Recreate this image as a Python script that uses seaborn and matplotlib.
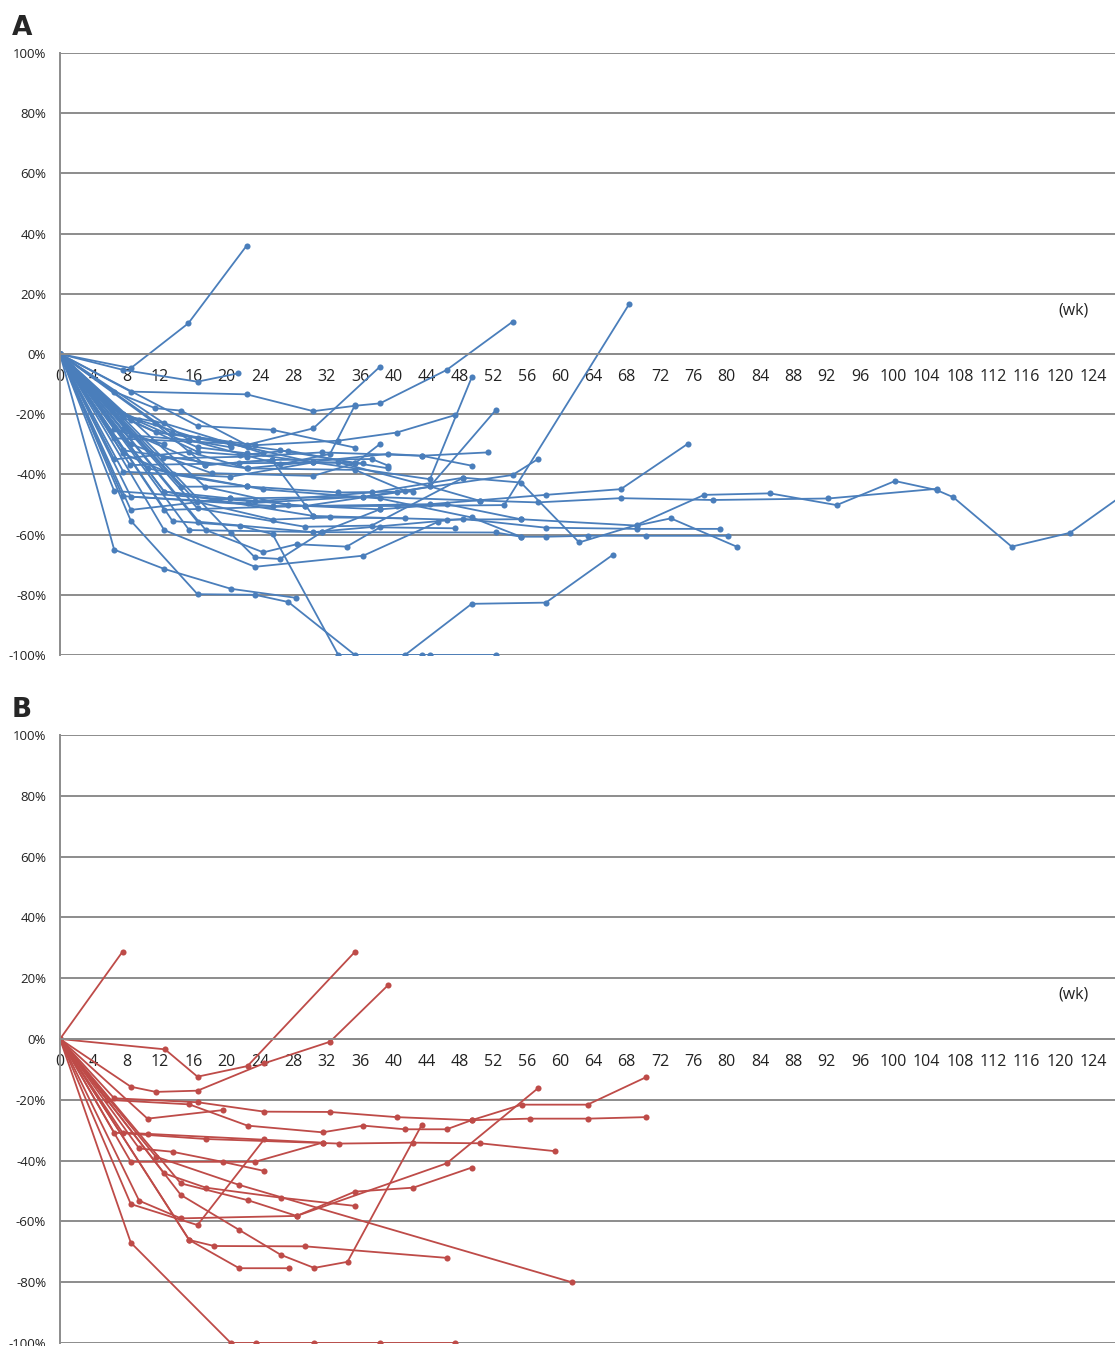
import pandas as pd
import seaborn as sns
import matplotlib.pyplot as plt
from matplotlib.ticker import FuncFormatter

# panel A: weeks and % change for each patient
a_weeks = [
    [0, 8.5, 15.4, 22.4],
    [0, 7.6, 16.5, 21.4],
    [0, 8.5, 22.4, 30.4, 35.4, 38.4, 46.4, 54.3],
    [0, 6.5, 11.4, 14.5, 22.4, 30.4, 38.4],
    [0, 16.5, 25.5, 35.4],
    [0, 13.4, 23.4, 33.4, 40.4, 47.4],
    [0, 15.5, 26.4, 32.4, 35.4],
    [0, 7.6, 20.4, 30.4, 44.4, 49.4],
    [0, 8.4, 21.5, 33.4, 44.4, 52.3],
    [0, 12.4, 22.4, 31.4, 43.4, 51.3],
    [0, 8.5, 22.5, 36.4, 54.3, 57.3],
    [0, 7.5, 25.5, 40.4, 53.3, 68.3],
    [0, 12.5, 29.4, 44.4, 58.3, 67.3, 75.3],
    [0, 6.5, 23.4, 37.4, 48.4, 55.3, 62.3, 69.2, 77.3, 85.2, 93.2, 100.2, 105.2, 107.2, 114.2, 121.2, 129],
    [0, 8.5, 20.4, 36.4, 50.4, 57.3, 67.3, 78.3, 92.2, 105.2],
    [0, 12.5, 30.4, 46.4, 55.3, 69.2, 73.3, 81.2],
    [0, 16.5, 30.4, 48.4, 58.3, 69.2, 79.2],
    [0, 15.5, 31.4, 52.3, 55.3, 58.3, 63.3, 70.3, 80.2],
    [0, 6.5, 12.5, 20.5, 28.3],
    [0, 8.5, 16.5, 23.4, 27.4, 35.4, 41.4, 49.4, 58.3, 66.3],
    [0, 13.5, 21.6, 25.5, 33.4, 43.4, 44.4, 52.3],
    [0, 12.5, 23.4, 36.4, 45.4],
    [0, 17.5, 24.4, 28.4, 34.4, 38.4, 47.4],
    [0, 20.5, 23.4, 26.4, 31.4, 38.4],
    [0, 7.5, 16.5, 22.4, 30.4],
    [0, 8.5, 16.5, 21.6, 27.4, 35.4],
    [0, 7.5, 17.4, 25.4, 37.4, 39.4],
    [0, 6.5, 20.4, 26.4, 39.4],
    [0, 8.5, 18.2, 30.4, 35.4, 38.4],
    [0, 7.6, 22.4, 39.4, 43.4, 49.4],
    [0, 12.5, 20.4, 29.4, 40.4, 44.4, 50.4],
    [0, 17.4, 27.4, 38.4, 46.4, 55.3],
    [0, 16.4, 25.5, 32.4, 41.4],
    [0, 16.5, 29.4, 37.4, 48.4],
    [0, 10.5, 24.4, 38.4, 49.4, 55.3],
    [0, 6.5, 12.5],
    [0, 7.5, 13.5, 22.4],
    [0, 8.5, 15.5, 20.5],
    [0, 14.5, 22.4, 33.4, 42.4],
    [0, 7.5, 12.5, 20.4, 30.4, 36.4],
    [0, 6.5, 15.5, 22.5, 35.4, 41.4],
    [0, 11.4, 17.4, 25.4, 30.4],
    [0, 6.5, 9.5, 16.5, 22.5],
    [0, 7.5, 11.5, 20.4, 24.4],
]
a_change = [
    [0, -4.7, 10.2, 36],
    [0, -5.3, -9.2, -6.4],
    [0, -12.5, -13.4, -19, -17.2, -16.4, -5.3, 10.7],
    [0, -12.5, -18, -18.8, -30.2, -24.7, -4.2],
    [0, -23.9, -25.2, -31.1],
    [0, -26.4, -30.3, -28.8, -26.1, -20.3],
    [0, -28.6, -36.7, -33.2, -17],
    [0, -39.1, -40.8, -36, -41.6, -7.8],
    [0, -36.9, -36.3, -36, -44, -18.6],
    [0, -34.7, -34.1, -32.7, -33.8, -32.7],
    [0, -47.4, -49.6, -47.4, -40.2, -35],
    [0, -47.2, -50.5, -50.5, -50.2, 16.6],
    [0, -51.8, -50.5, -49.9, -46.8, -44.9, -29.9],
    [0, -45.5, -49, -46, -41.1, -42.7, -62.6, -56.8, -46.8, -46.3, -50.2, -42.2, -45.2, -47.6, -64, -59.4, -44],
    [0, -51.8, -48, -47.4, -48.7, -49.3, -47.9, -48.5, -48, -44.8],
    [0, -45.7, -53.8, -55, -54.9, -57, -54.6, -64],
    [0, -55.7, -59.2, -54.8, -57.7, -58.1, -58.1],
    [0, -58.5, -59.2, -59.3, -60.7, -60.7, -60.4, -60.4, -60.4],
    [0, -65, -71.4, -78, -81],
    [0, -55.4, -79.8, -80, -82.4, -100, -100, -83, -82.6, -66.8],
    [0, -55.5, -57.1, -59.8, -100, -100, -100, -100],
    [0, -58.5, -70.7, -67, -55.7],
    [0, -58.5, -65.9, -63.2, -64, -57.6, -57.9],
    [0, -59.6, -67.6, -68.1, -59.2, -51.6],
    [0, -20, -31, -33, -36],
    [0, -22, -32.5, -33.6, -32.1, -36.3],
    [0, -25, -36.9, -35.2, -34.9, -37.1],
    [0, -28, -29.7, -32, -38],
    [0, -30, -39.6, -40.5, -36.3, -29.9],
    [0, -32, -38, -33.2, -33.8, -37.1],
    [0, -45.7, -48, -50.5, -46, -44, -48.8],
    [0, -44.1, -50.2, -51.6, -49.9, -54.9],
    [0, -49.1, -55, -54.3, -54.6],
    [0, -51.3, -57.4, -57, -41.1],
    [0, -38, -45, -48, -54.3, -60.7],
    [0, -25, -30],
    [0, -33, -40, -44],
    [0, -27, -28.6, -31],
    [0, -44.1, -44, -46, -45.7],
    [0, -20.5, -23, -29.7, -36, -36.3],
    [0, -35, -32.5, -38, -38.5, -45.5],
    [0, -23, -36.9, -35.2, -53.8],
    [0, -18, -22, -28, -31],
    [0, -21, -26, -29.5, -33],
]

# panel B
b_weeks = [
    [0, 7.5],
    [0, 12.6, 16.5, 22.5, 35.4],
    [0, 8.5, 11.5, 16.5, 24.5, 32.4, 39.4],
    [0, 6.5, 16.5, 24.5, 32.4, 40.4, 49.4, 56.4, 63.3, 70.3],
    [0, 10.5, 19.5],
    [0, 5.6, 15.5, 22.5, 31.5, 36.4, 41.4, 46.4, 49.4, 55.4, 63.3, 70.3],
    [0, 6.5, 17.5, 33.5, 42.4, 50.4, 59.4],
    [0, 9.5, 13.5, 19.5, 24.5],
    [0, 8.5, 23.4, 31.5],
    [0, 8.5, 20.5, 23.5, 30.5, 38.4, 47.4],
    [0, 8.5, 16.5, 24.5],
    [0, 9.5, 14.5, 28.4, 35.4, 42.4, 49.4],
    [0, 12.5, 17.5, 26.5, 35.4],
    [0, 14.5, 22.5, 28.4, 46.4, 57.4],
    [0, 11.5, 21.5, 61.4],
    [0, 15.5, 18.5, 29.4, 46.4],
    [0, 14.5, 21.5, 26.5, 30.5, 34.5, 43.4],
    [0, 15.5, 21.5, 27.5],
    [0, 7.5, 10.5, 31.5],
]
b_change = [
    [0, 28.7],
    [0, -3.4, -12.4, -8.9, 28.7],
    [0, -15.7, -17.4, -17, -8, -0.9, 17.8],
    [0, -19.5, -20.8, -23.9, -24, -25.7, -26.7, -26.2, -26.2, -25.7],
    [0, -26.2, -23.4],
    [0, -20, -21.5, -28.5, -30.7, -28.5, -29.7, -29.7, -26.7, -21.6, -21.6, -12.6],
    [0, -30.8, -32.9, -34.4, -34.1, -34.3, -36.9],
    [0, -36, -37.1, -40.4, -43.4],
    [0, -40.4, -40.4, -34.1],
    [0, -67, -100, -100, -100, -100, -100],
    [0, -54.3, -61.2, -33],
    [0, -53.2, -59, -58.2, -50.2, -48.9, -42.3],
    [0, -44.2, -48.9, -52.2, -54.9],
    [0, -47.5, -53, -58.2, -40.9, -16.1],
    [0, -38.7, -48, -80],
    [0, -66.1, -68.1, -68.2, -72],
    [0, -51.3, -62.8, -71, -75.3, -73.3, -28.3],
    [0, -66.1, -75.4, -75.4],
    [0, -30.8, -31.2, -34.1],
]

x_ticks = list(range(0, 125, 4))
y_ticks = list(range(-100, 101, 20))


def long_table(weeks, change):
    rows = []
    for pid, (ws, cs) in enumerate(zip(weeks, change)):
        for w, c in zip(ws, cs):
            rows.append({"patient": pid, "week": w, "change": c})
    return pd.DataFrame(rows)


sns.set_style("white")
plt.rcParams["font.family"] = ["Open Sans", "DejaVu Sans"]

fig = plt.figure(figsize=(11.15, 13.46), dpi=100)
ax_a = fig.add_axes([60 / 1115, 1 - 655 / 1346, 1055 / 1115, 602 / 1346])
ax_b = fig.add_axes([60 / 1115, 1 - 1343 / 1346, 1055 / 1115, 608 / 1346])

grid_col = "#8c8c8c"
panels = [(ax_a, a_weeks, a_change, "#4a7ebb"), (ax_b, b_weeks, b_change, "#be4b48")]
for ax, ws, cs, col in panels:
    df = long_table(ws, cs)
    sns.lineplot(data=df, x="week", y="change", units="patient", estimator=None,
                 sort=False, color=col, marker="o", markersize=4.4, markeredgewidth=0,
                 linewidth=1.3, ax=ax, legend=False)
    ax.set_xlim(0, 126.6)
    ax.set_ylim(-100, 100)
    ax.set_xticks(x_ticks)
    ax.set_yticks(y_ticks)
    ax.yaxis.set_major_formatter(FuncFormatter(lambda v, p: f"{int(round(v))}%"))
    ax.grid(axis="y", color=grid_col, linewidth=1.4)
    ax.grid(axis="x", visible=False)
    ax.set_axisbelow(True)
    for s in ["top", "right"]:
        ax.spines[s].set_visible(False)
    ax.spines["left"].set_color(grid_col)
    ax.spines["left"].set_linewidth(1.4)
    ax.spines["bottom"].set_position(("data", 0))
    ax.spines["bottom"].set_color(grid_col)
    ax.spines["bottom"].set_linewidth(1.4)
    ax.tick_params(axis="x", direction="out", length=4, width=1, color=grid_col,
                   labelsize=11.5, pad=6.5, labelcolor="#222222")
    ax.tick_params(axis="y", direction="out", length=4, width=1, color=grid_col,
                   labelsize=9.5, pad=6, labelcolor="#222222")
    ax.set_xlabel("")
    ax.set_ylabel("")
    ax.text(121.6, 14.5, "(wk)", ha="center", va="center", fontsize=11.5, color="#222222")

fig.text(12 / 1115, 1 - 35 / 1346, "A", fontsize=19, fontweight="bold",
         family="DejaVu Sans", ha="left", va="baseline")
fig.text(12 / 1115, 1 - 717 / 1346, "B", fontsize=19, fontweight="bold",
         family="DejaVu Sans", ha="left", va="baseline")

fig.savefig("out.png", dpi=100)
